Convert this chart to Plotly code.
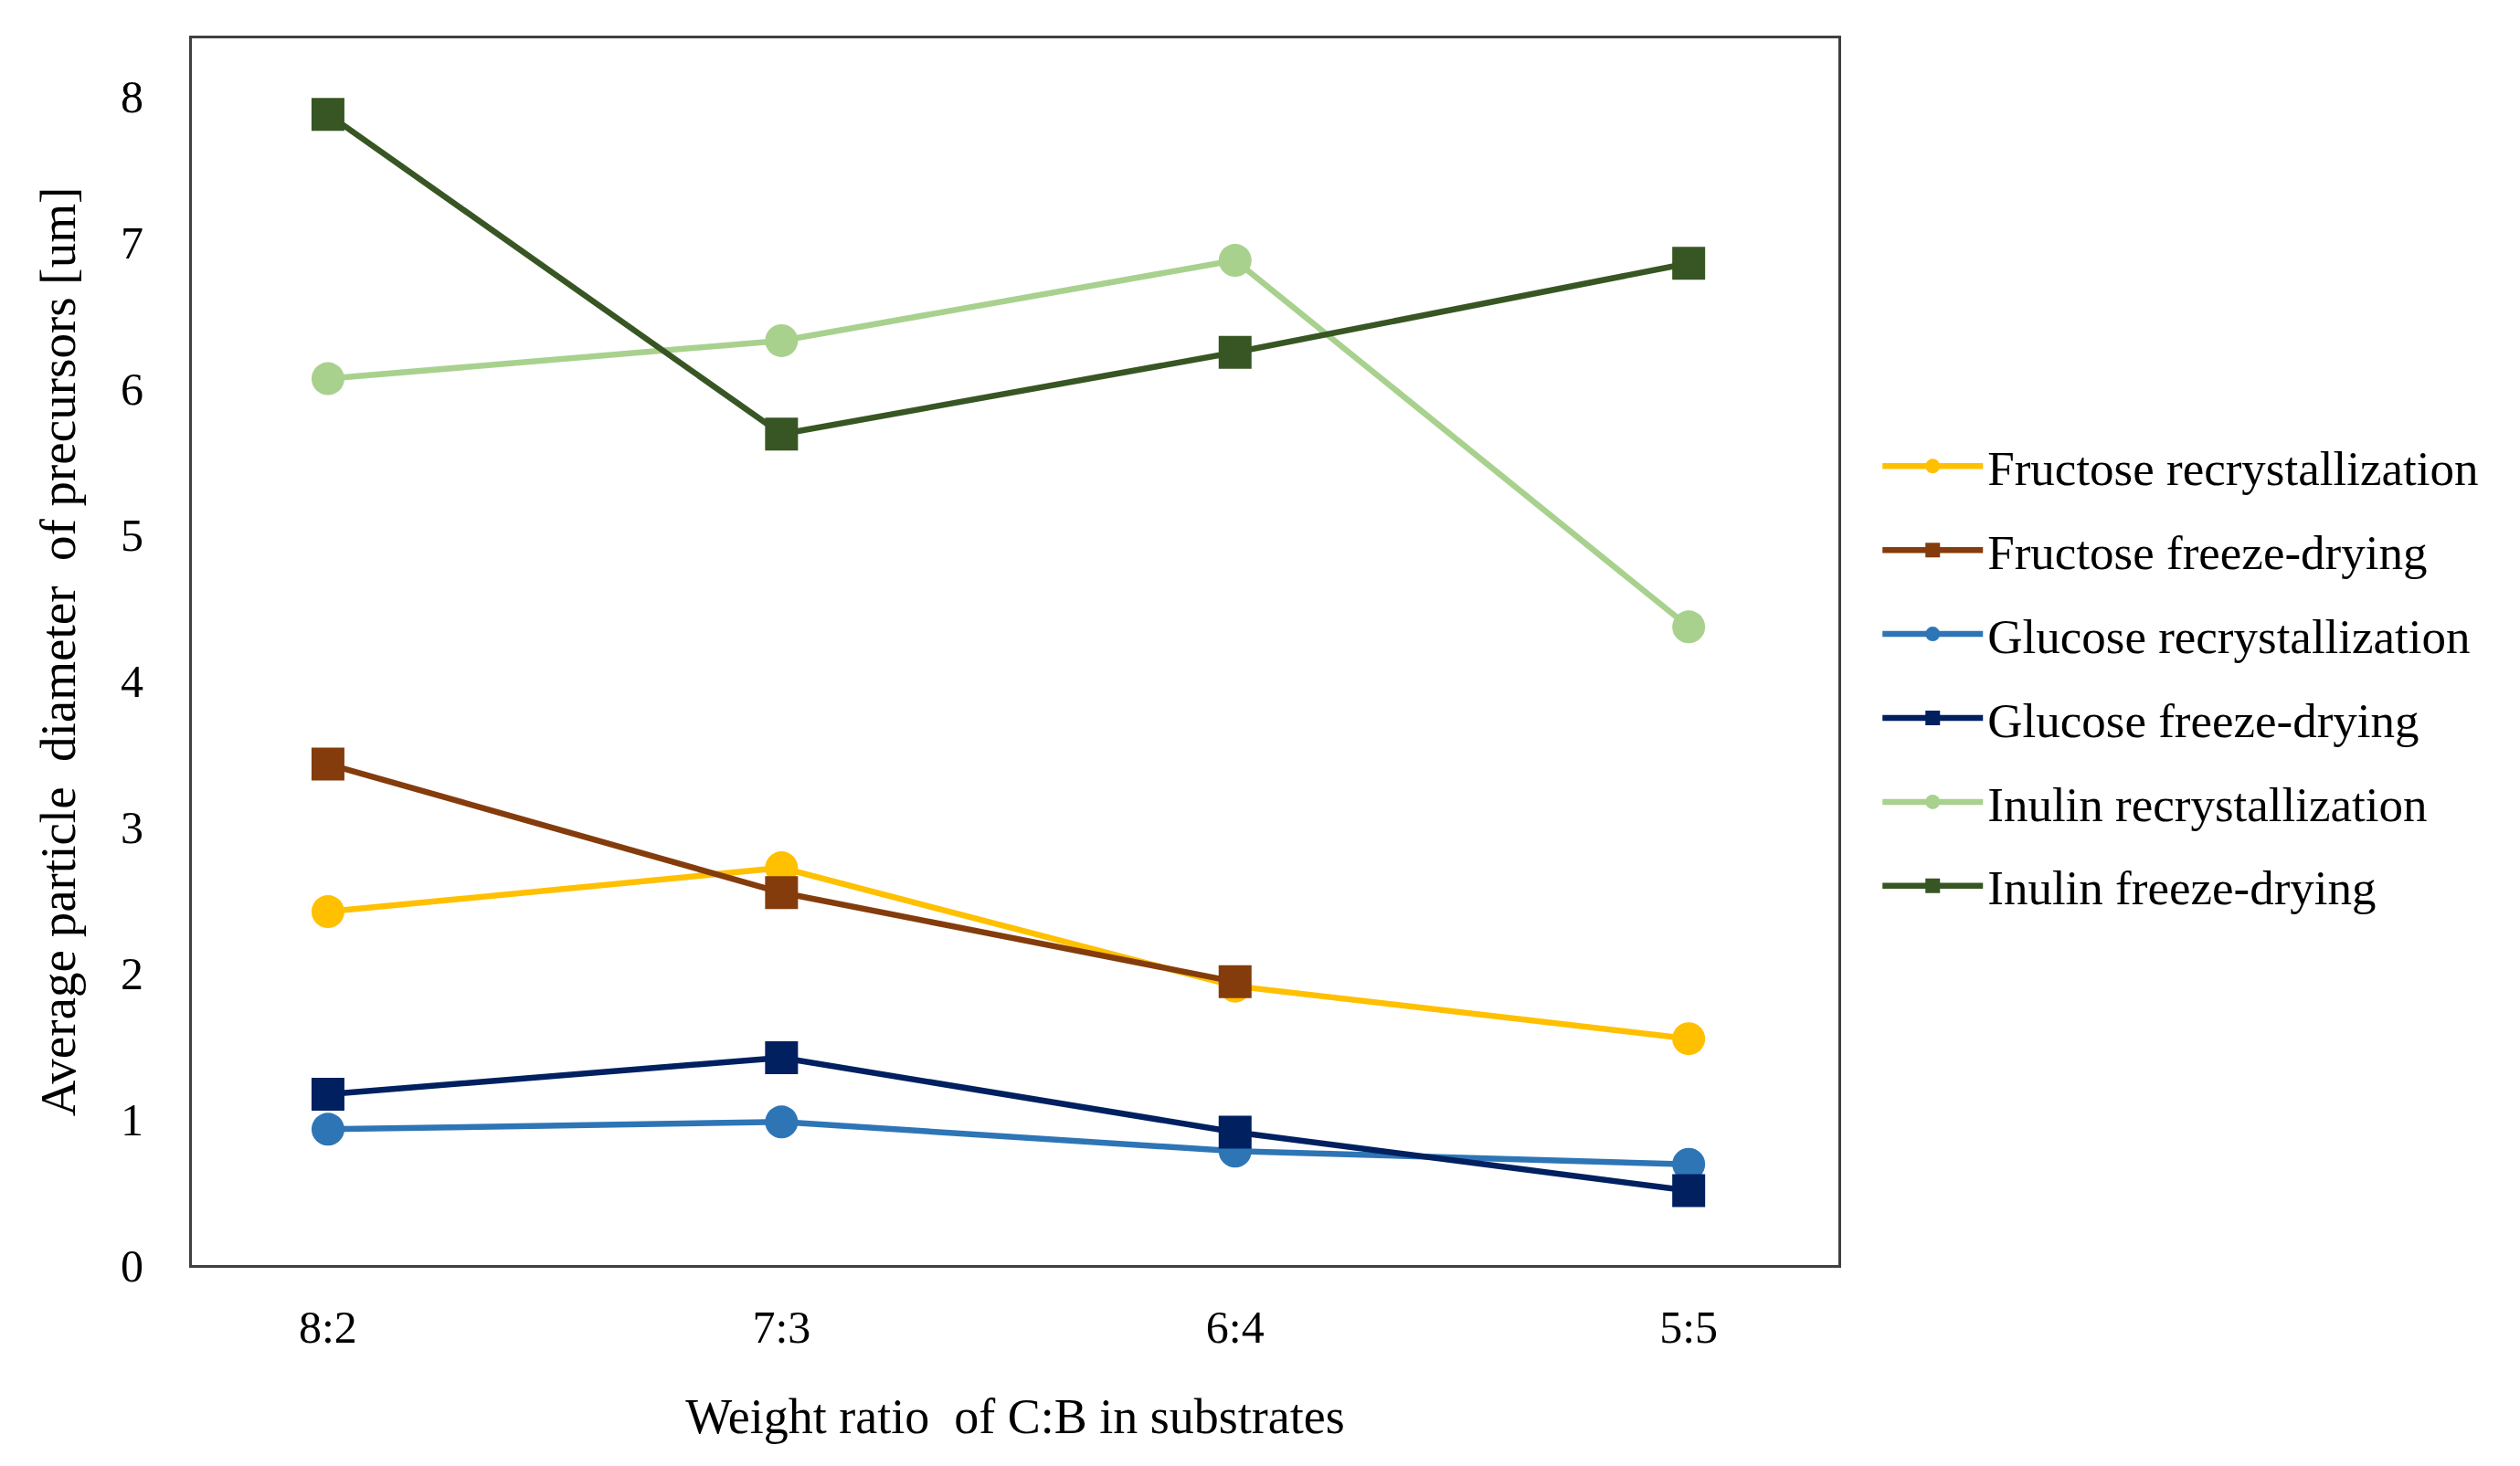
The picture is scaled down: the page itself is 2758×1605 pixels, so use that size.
import plotly.graph_objects as go

categories = ["8:2", "7:3", "6:4", "5:5"]
fructose_recryst = [2.42, 2.72, 1.91, 1.55]
fructose_freeze = [3.43, 2.55, 1.94, None]
glucose_recryst = [0.93, 0.98, 0.78, 0.69]
glucose_freeze = [1.17, 1.42, 0.91, 0.51]
inulin_recryst = [6.07, 6.33, 6.88, 4.37]
inulin_freeze = [7.88, 5.69, 6.25, 6.86]
y_ticks = [0, 1, 2, 3, 4, 5, 6, 7, 8]

series = [
    ("Fructose recrystallization", fructose_recryst, "#FFC000", "circle"),
    ("Fructose freeze-drying", fructose_freeze, "#843C0C", "square"),
    ("Glucose recrystallization", glucose_recryst, "#2E75B6", "circle"),
    ("Glucose freeze-drying", glucose_freeze, "#002060", "square"),
    ("Inulin recrystallization", inulin_recryst, "#A9D18E", "circle"),
    ("Inulin freeze-drying", inulin_freeze, "#375623", "square"),
]

FONT = "Liberation Serif"

fig = go.Figure()
for i, (name, vals, color, sym) in enumerate(series):
    fig.add_trace(go.Scatter(
        x=categories, y=vals, name=name, mode="lines+markers",
        line=dict(color=color, width=6.5),
        marker=dict(color=color, symbol=sym, size=36),
        legendgroup=f"g{i}",
        connectgaps=False,
    ))

fig.update_layout(
    width=2758, height=1605,
    paper_bgcolor="white", plot_bgcolor="white",
    margin=dict(l=202, r=754, t=34, b=228),
    font=dict(family=FONT, size=52, color="black"),
    showlegend=True,
    legend=dict(
        x=1.024, y=0.48, xanchor="left", yanchor="middle",
        font=dict(family=FONT, size=53, color="black"),
        tracegroupgap=20, itemwidth=110,
        bgcolor="rgba(0,0,0,0)",
    ),
    xaxis=dict(
        type="category", range=[-0.3, 3.33],
        showline=True, mirror=True, linecolor="#404040", linewidth=3,
        showgrid=False, zeroline=False, ticks="",
        ticklabelstandoff=22,
        tickfont=dict(family=FONT, size=50),
        title=dict(text="\u00a0\u00a0Weight ratio  of C:B in substrates", font=dict(family=FONT, size=54), standoff=52),
    ),
    yaxis=dict(
        range=[0, 8.4], tickvals=y_ticks,
        showline=True, mirror=True, linecolor="#404040", linewidth=3,
        showgrid=False, zeroline=False, ticks="",
        ticklabelstandoff=40,
        tickfont=dict(family=FONT, size=50),
        title=dict(text="Average particle  diameter  of precursors [um]", font=dict(family=FONT, size=55), standoff=32),
    ),
)

fig.write_html("out.html")
